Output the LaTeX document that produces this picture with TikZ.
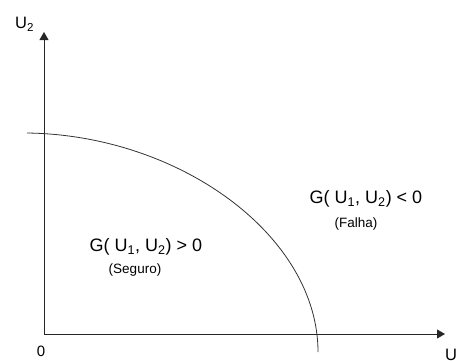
\documentclass[tikz,border=0pt]{standalone}
\usepackage{fontspec}
\setmainfont{Liberation Sans}
\usetikzlibrary{arrows.meta}
\begin{document}
\begin{tikzpicture}[x=1pt,y=-1pt,
  axis/.style={line width=0.9pt,draw=black!85,-{Triangle[length=8pt,width=9pt]}},
  curve/.style={line width=0.8pt,draw=black!80},
  big/.style={font=\fontsize{18}{21}\selectfont,inner sep=0pt},
  small/.style={font=\fontsize{13.5}{16}\selectfont,inner sep=0pt},
  lab/.style={font=\fontsize{16.5}{19}\selectfont,inner sep=0pt}]
\useasboundingbox (0,0) rectangle (457,360);
\coordinate (O) at (44,334);
\coordinate (Ytip) at (44,32);
\coordinate (Xtip) at (445,334);
\coordinate (cs) at (27,133);
\coordinate (ce) at (318,352);
\draw[axis] (O) -- (Ytip);
\draw[axis] (O) -- (Xtip);
\draw[curve] (cs) .. controls (180,135) and (318,236) .. (ce);
\node[lab,anchor=north west] (u2) at (15,17) {U\textsubscript{2}};
\node[lab,anchor=north west] (u1) at (445,349) {U};
\node[small,font=\fontsize{15}{17}\selectfont] (zero) at (41,351) {0};
\node[big] (gpos) at (146,247) {G( U\textsubscript{1}, U\textsubscript{2}) > 0};
\node[small] (seg) at (135,270) {(Seguro)};
\node[big] (gneg) at (366,199) {G( U\textsubscript{1}, U\textsubscript{2}) < 0};
\node[small] (fal) at (356,224) {(Falha)};
\end{tikzpicture}
\end{document}
